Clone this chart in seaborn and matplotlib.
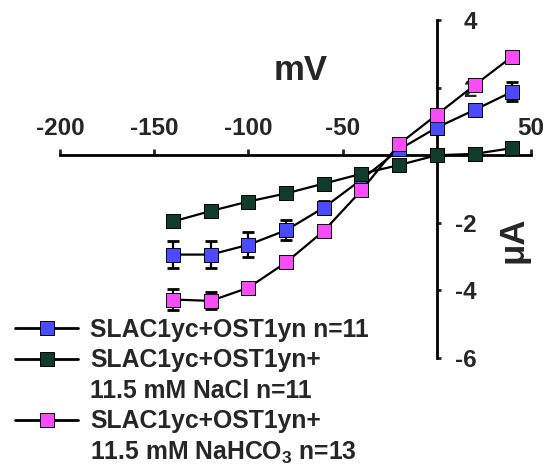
import numpy as np
import pandas as pd
import seaborn as sns
import matplotlib.pyplot as plt
from matplotlib.lines import Line2D

# membrane potential steps (mV)
mv = [-140, -120, -100, -80, -60, -40, -20, 0, 20, 40]

# mean currents (uA)
ctrl = [-2.94, -2.94, -2.65, -2.22, -1.55, -0.72, 0.17, 0.82, 1.34, 1.88]
nacl = [-1.96, -1.65, -1.37, -1.13, -0.84, -0.55, -0.29, 0.0, 0.04, 0.21]
bicarb = [-4.27, -4.31, -3.92, -3.17, -2.24, -1.04, 0.33, 1.2, 2.07, 2.92]

# error bars (SEM, uA)
ctrl_err = [0.39, 0.39, 0.37, 0.3, 0.2, 0.15, 0.1, 0.1, 0.1, 0.28]
nacl_err = [0.08, 0.08, 0.08, 0.08, 0.08, 0.08, 0.08, 0.08, 0.15, 0.08]
bicarb_err = [0.3, 0.25, 0.12, 0.1, 0.1, 0.1, 0.1, 0.1, 0.18, 0.1]

labels = ["SLAC1yc+OST1yn n=11",
          "SLAC1yc+OST1yn+\n11.5 mM NaCl n=11",
          "SLAC1yc+OST1yn+\n11.5 mM NaHCO$_3$ n=13"]
colors = ["#4a4aff", "#0f3d2a", "#f84cf8"]

x_ticks = [-200, -150, -100, -50, 0, 50]
x_ticklabels = ["-200", "-150", "-100", "-50", "", "50"]
y_ticks = [-6, -4, -2, 0, 2, 4]
y_ticklabels = ["-6", "-4", "-2", "", "2", "4"]

sns.set_style("white")
plt.rcParams["font.family"] = ["Liberation Sans", "DejaVu Sans"]
plt.rcParams["font.weight"] = "bold"
plt.rcParams["mathtext.default"] = "regular"

df = pd.DataFrame({
    "mV": mv * 3,
    "uA": ctrl + nacl + bicarb,
    "err": ctrl_err + nacl_err + bicarb_err,
    "cond": [labels[0]] * 10 + [labels[1]] * 10 + [labels[2]] * 10,
})

fig = plt.figure(figsize=(5.46, 4.76), dpi=100)
ax = fig.add_axes([0.110, 0.2479, 0.8626, 0.710])

for i, lab in enumerate(labels):
    sub = df[df["cond"] == lab]
    ax.errorbar(sub["mV"], sub["uA"], yerr=sub["err"], fmt="none", ecolor="black",
                elinewidth=1.6, capsize=4.5, capthick=2, zorder=3 + i * 0.1, clip_on=False)
    sns.lineplot(data=sub, x="mV", y="uA", color="black", linewidth=1.6, ax=ax,
                 zorder=3 + i * 0.1 + 0.02, legend=False)
    sns.scatterplot(data=sub, x="mV", y="uA", color=colors[i], marker="s", s=90,
                    edgecolor="black", linewidth=0.7, ax=ax, zorder=3 + i * 0.1 + 0.05,
                    legend=False, clip_on=False)

ax.set_xlim(-200, 50)
ax.set_ylim(-6, 4)

# axes cross at the origin
ax.spines["bottom"].set_visible(False)
ax.spines["left"].set_visible(False)
ax.spines["top"].set_position(("data", 0))
ax.spines["right"].set_position(("data", 0))
for s in ["top", "right"]:
    ax.spines[s].set_linewidth(2)
    ax.spines[s].set_color("black")
    ax.spines[s].set_zorder(2)

ax.xaxis.tick_top()
ax.yaxis.tick_right()
ax.set_xticks(x_ticks)
ax.set_xticklabels(x_ticklabels)
ax.set_yticks(y_ticks)
ax.set_yticklabels(y_ticklabels, ha="right")
ax.tick_params(axis="x", direction="out", length=4, width=2, pad=7, labelsize=17.5)
ax.tick_params(axis="y", direction="out", length=3, width=2, pad=26, labelsize=17.5)

ax.xaxis.set_label_position("top")
ax.set_xlabel("mV", fontsize=25, fontweight="bold")
ax.xaxis.label.set_va("center")
ax.xaxis.set_label_coords(0.51, 0.852)

ax.yaxis.set_label_position("right")
ax.set_ylabel("μA", fontsize=25, fontweight="bold", rotation=90)
ax.yaxis.label.set_va("center")
ax.yaxis.label.set_ha("center")
ax.yaxis.set_label_coords(0.962, 0.349)

# legend: handle sits on the first line of each label, further lines get a blank handle
handles, texts = [], []
for c, lab in zip(colors, labels):
    lines = lab.split("\n")
    handles.append(Line2D([], [], color="black", linewidth=2, marker="s", markersize=9.5,
                          markerfacecolor=c, markeredgecolor="black", markeredgewidth=0.7))
    texts.append(lines[0])
    for extra in lines[1:]:
        handles.append(Line2D([], [], linestyle="none"))
        texts.append(extra)

fig.legend(handles, texts, loc="upper left", bbox_to_anchor=(15 / 546, 1 - 318 / 476),
           frameon=False, fontsize=17.8, handlelength=2.55, handletextpad=0.5,
           borderpad=0, borderaxespad=0, labelspacing=0.26)

fig.savefig("out.png", dpi=100)
